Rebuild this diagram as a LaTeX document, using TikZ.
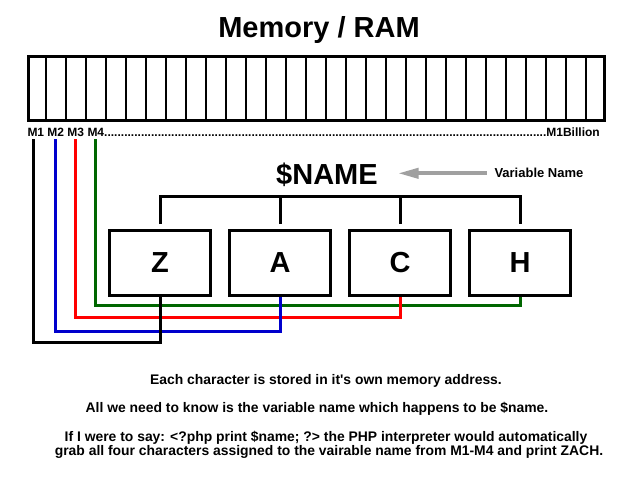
\documentclass[tikz,border=0pt]{standalone}
\usepackage{fontspec}
\setmainfont{Liberation Sans}[Ligatures=TeXOff]
\usetikzlibrary{arrows.meta}
\definecolor{lblue}{RGB}{0,0,204}
\definecolor{lred}{RGB}{255,0,0}
\definecolor{lgreen}{RGB}{0,102,0}
\definecolor{lgray}{RGB}{160,160,160}
\tikzset{
  charbox/.style={draw=black,line width=3pt,minimum width=101.6pt,minimum height=64.7pt,inner sep=0pt,
    font=\bfseries\fontsize{29}{34}\selectfont},
  bigtext/.style={inner sep=0pt,font=\bfseries\fontsize{29}{34}\selectfont},
  bodytext/.style={inner sep=0pt,anchor=base,font=\bfseries\fontsize{13.9}{16}\selectfont},
  labtext/.style={inner sep=0pt,font=\bfseries\fontsize{12}{14}\selectfont},
  wire/.style={line width=3pt},
  bracket/.style={line width=3pt,black},
  arr/.style={line width=4pt,lgray,-{Triangle[length=21pt,width=10pt]}}
}
\begin{document}
\begin{tikzpicture}[x=1pt,y=-1pt]
\useasboundingbox (0,0) rectangle (640,480);
% title
\node[bigtext,anchor=base] (title) at (319,37.3) {Memory / RAM};
% memory strip
\node[draw,line width=3pt,inner sep=0pt,minimum width=576pt,minimum height=63.7pt] (ram) at (316.2,88.35) {};
\foreach \k in {0,...,27} {
  \draw[line width=2pt] (45.8+20*\k,56.5) -- (45.8+20*\k,120.2);
}
% address labels
\node[labtext,anchor=base west] (addr) at (27.3,136.7)
  {\makebox[572pt][l]{M1 M2 M3 M4\xleaders\hbox{.}\hfill M1Billion}};
% $NAME and arrow
\node[bigtext,anchor=base] (name) at (327,184.3) {\$NAME};
\node[labtext,anchor=base west,font=\bfseries\fontsize{13}{15}\selectfont] (vn) at (494.3,177.3) {Variable Name};
\coordinate (a1) at (486.7,173.3);
\coordinate (a2) at (397.7,173.3);
\draw[arr] (a1) -- (a2);
% character boxes
\node[charbox] (Z) at (160,262.85) {Z};
\node[charbox] (A) at (280,262.85) {A};
\node[charbox] (C) at (400,262.85) {C};
\node[charbox] (H) at (520,262.85) {H};
% bracket
\coordinate (bar) at (0,196);
\draw[bracket] ([yshift=5pt]Z.north) -- (Z.north |- bar) -- (H.north |- bar) -- ([yshift=5pt]H.north);
\draw[bracket] ([yshift=5pt]A.north) -- (A.north |- bar);
\draw[bracket] ([yshift=5pt]C.north) -- (C.north |- bar);
% memory address wires
\coordinate (m1) at (33.3,139);
\coordinate (m2) at (55.3,139);
\coordinate (m3) at (75.3,139);
\coordinate (m4) at (95.3,139);
\draw[wire,lgreen] (m4) |- ([yshift=-8.3pt]H.south) -- (H.south);
\draw[wire,lred] (m3) |- ([yshift=-21pt]C.south) -- (C.south);
\draw[wire,lblue] (m2) |- ([yshift=-34.3pt]A.south) -- (A.south);
\draw[wire,black] (m1) |- ([yshift=-46pt]Z.south) -- (Z.south);
% explanation text
\node[bodytext] (t1) at (326,384) {Each character is stored in it's own memory address.};
\node[bodytext] (t2) at (317,412) {All we need to know is the variable name which happens to be \$name.};
\node[bodytext] (t3) at (326,441) {If I were to say: <?php print \$name; ?> the PHP interpreter would automatically};
\node[bodytext] (t4) at (329,455) {grab all four characters assigned to the vairable name from M1-M4 and print ZACH.};
\end{tikzpicture}
\end{document}
